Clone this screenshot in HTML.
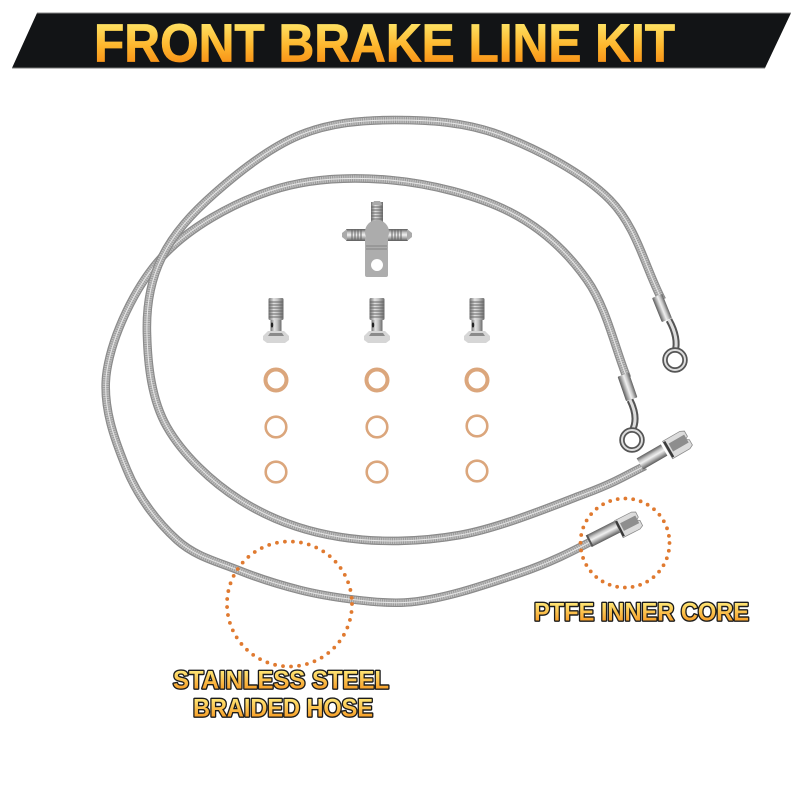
<!DOCTYPE html>
<html><head><meta charset="utf-8"><title>Front Brake Line Kit</title>
<style>html,body{margin:0;padding:0;background:#fff}svg{display:block}</style></head>
<body>
<svg xmlns="http://www.w3.org/2000/svg" width="800" height="800" viewBox="0 0 800 800">
<defs>
<filter id="soft" x="-5%" y="-5%" width="110%" height="110%"><feGaussianBlur stdDeviation="0.3"/></filter>
<linearGradient id="tg" x1="0" y1="0" x2="0" y2="1"><stop offset="0.1" stop-color="#ffe96c"/><stop offset="0.55" stop-color="#fdb52c"/><stop offset="1" stop-color="#f57d0c"/></linearGradient>
<linearGradient id="lg" x1="0" y1="0" x2="0" y2="1"><stop offset="0.15" stop-color="#ffe675"/><stop offset="1" stop-color="#f58a12"/></linearGradient>
<linearGradient id="ch" x1="0" y1="0" x2="0" y2="1"><stop offset="0" stop-color="#5e5e5e"/><stop offset="0.3" stop-color="#c8c8c8"/><stop offset="0.5" stop-color="#f0f0f0"/><stop offset="0.75" stop-color="#a8a8a8"/><stop offset="1" stop-color="#5a5a5a"/></linearGradient>
<linearGradient id="chv" x1="0" y1="0" x2="1" y2="0"><stop offset="0" stop-color="#707070"/><stop offset="0.35" stop-color="#e2e2e2"/><stop offset="0.6" stop-color="#c4c4c4"/><stop offset="1" stop-color="#6a6a6a"/></linearGradient>
<path id="h1" d="M662,300 C644.7,266.7 637,227.5 610,200 C583,172.5 535.8,148.3 500,135 C464.2,121.7 428.3,120 395,120 C361.7,120 330,122.8 300,135 C270,147.2 238,172.7 215,193 C192,213.3 173.7,233.3 162,257 C150.3,280.7 146,306.7 147,335 C147.8,363.3 151.2,399.5 167,427 C182.8,454.5 211.2,481.7 240,500 C268.8,518.3 303.3,531.2 340,537 C376.7,542.8 418.8,542.3 460,535 C501.2,527.7 556.2,504.5 587,493 C617.8,481.5 630,473 645,466"/>
<path id="h2" d="M627,378 C614,345 606.5,307.7 587,280 C567.5,252.3 542.8,228.7 510,212 C477.2,195.3 430,183.5 390,180 C350,176.5 308,178.2 270,191 C232,203.8 189.2,227.2 162,257 C134.8,286.8 112.8,334.5 107,370 C101.2,405.5 115.3,441.7 127,470 C138.7,498.3 158.5,523.3 177,540 C195.5,556.7 217.5,561.7 238,570 C258.5,578.3 280.2,585 300,590 C319.8,595 338.7,597.8 357,600 C372,601.8 388,603.5 405,602.5 C440,600.5 485,585 520,573 C550,562.8 573,551 590,542"/>
<g id="bolt">
<rect x="-7.5" y="298" width="15" height="22" rx="1.5" fill="url(#chv)"/>
<path d="M-7.5,302h15M-7.5,305h15M-7.5,308h15M-7.5,311h15M-7.5,314h15M-7.5,317h15" stroke="#666" stroke-width="1"/>
<rect x="-5.5" y="320" width="11" height="13" fill="url(#chv)"/>
<ellipse cx="-4" cy="325" rx="1.2" ry="2.5" fill="#222"/>
<path d="M-8,331 H8 L13,336 V340 L9,343 H-9 L-13,340 V336 Z" fill="#d6d6d6"/>
<path d="M-6,333 H6 L8,336 H-8 Z" fill="#8a8a8a"/>
</g>
<g id="nut">
<path d="M-12,-10 H8 L12,-8 V-2 L9,0 L12,2 V8 L8,10 H-12 Z" fill="#dcdcdc" stroke="#8a8a8a" stroke-width="0.8"/>
<rect x="-8" y="-5" width="18" height="9" fill="#8e8e8e"/>
<rect x="-12" y="-9" width="2.5" height="18" fill="#3a3a3a"/>
</g>
</defs>

<polygon points="37,13 791,13 765,68 12,68" fill="#121416"/>
<path d="M37,13 H791" stroke="#888" stroke-width="1"/>
<path d="M12,68 H765" stroke="#777" stroke-width="1"/>
<text x="94" y="61.5" font-family="'Liberation Sans',sans-serif" font-weight="700" font-size="54" textLength="581" lengthAdjust="spacingAndGlyphs" fill="url(#tg)" stroke="url(#tg)" stroke-width="0.8">FRONT BRAKE LINE KIT</text>

<g filter="url(#soft)">
<!-- hoses -->
<g fill="none">
<use href="#h2" stroke="#8a8a8a" stroke-width="8.6"/>
<use href="#h2" stroke="#c0c0c0" stroke-width="6.2"/>
<use href="#h2" stroke="#8e8e8e" stroke-width="8.2" stroke-dasharray="1 1.2" opacity="0.75"/>
<use href="#h2" stroke="#e6e6e6" stroke-width="1"/>
<use href="#h1" stroke="#8a8a8a" stroke-width="8.6"/>
<use href="#h1" stroke="#c0c0c0" stroke-width="6.2"/>
<use href="#h1" stroke="#8e8e8e" stroke-width="8.2" stroke-dasharray="1 1.2" opacity="0.75"/>
<use href="#h1" stroke="#e6e6e6" stroke-width="1"/>
</g>

<!-- banjo ends -->
<g fill="none">
<path d="M669,320 Q679,338 675,352" stroke="#555" stroke-width="7"/>
<path d="M669,320 Q679,338 675,352" stroke="#ddd" stroke-width="3"/>
<circle cx="675" cy="360" r="10" stroke="#555" stroke-width="5.5"/>
<circle cx="675" cy="360" r="10" stroke="#ddd" stroke-width="2"/>
<path d="M630,400 Q639,418 632,431" stroke="#555" stroke-width="7"/>
<path d="M630,400 Q639,418 632,431" stroke="#ddd" stroke-width="3"/>
<circle cx="632" cy="440" r="10" stroke="#555" stroke-width="5.5"/>
<circle cx="632" cy="440" r="10" stroke="#ddd" stroke-width="2"/>
</g>
<rect x="-13" y="-5.5" width="26" height="11" rx="1" transform="translate(662,308) rotate(68)" fill="url(#ch)"/>
<rect x="-13" y="-6" width="26" height="12" rx="1" transform="translate(627.5,387) rotate(71)" fill="url(#ch)"/>

<!-- straight fittings -->
<g transform="translate(652,457) rotate(-30)"><rect x="-14" y="-6.5" width="28" height="13" fill="url(#ch)"/></g>
<use href="#nut" transform="translate(678,444) rotate(-30)"/>
<g transform="translate(603,534) rotate(-27)">
<rect x="-16" y="-6.5" width="32" height="13" fill="url(#ch)"/>
<rect x="-16" y="-6.5" width="2" height="13" fill="#555"/>
</g>
<use href="#nut" transform="translate(629,524) rotate(-27) scale(0.95)"/>

<!-- tee -->
<g>
<rect x="371" y="202" width="12" height="22" fill="url(#chv)"/>
<path d="M371,207h12M371,210h12M371,213h12M371,216h12M371,219h12" stroke="#666"/>
<polygon points="372,205 374,201 380,201 382,205" fill="#aaa"/>
<rect x="346" y="229" width="22" height="12" fill="url(#ch)"/>
<path d="M352,229v12M355,229v12M358,229v12M361,229v12" stroke="#666"/>
<polygon points="347,229 342,233 342,237 347,241" fill="#aaa"/>
<rect x="386" y="229" width="22" height="12" fill="url(#ch)"/>
<path d="M392,229v12M395,229v12M398,229v12M401,229v12" stroke="#666"/>
<polygon points="407,229 412,233 412,237 407,241" fill="#aaa"/>
<path fill-rule="evenodd" d="M365,238 H388 V275 Q388,277 386,277 H367 Q365,277 365,275 Z M377,259 a6,6 0 1,0 0.01,0 Z" fill="#adadad"/>
<path d="M366,246h21M366,249h21" stroke="#838383"/>
<circle cx="377" cy="232" r="12" fill="#acacac"/>
</g>

<!-- bolts -->
<use href="#bolt" x="276"/>
<use href="#bolt" x="377"/>
<use href="#bolt" x="477"/>

<!-- washers -->
<g fill="none" stroke="#dba67c">
<g stroke-width="4"><circle cx="276" cy="380" r="10.5"/><circle cx="377" cy="380" r="10.5"/><circle cx="477" cy="380" r="10.5"/></g>
<g stroke-width="2.6"><circle cx="276" cy="427" r="10.3"/><circle cx="377" cy="427" r="10.3"/><circle cx="477" cy="426" r="10.3"/><circle cx="276" cy="472" r="10.3"/><circle cx="377" cy="472" r="10.3"/><circle cx="477" cy="471" r="10.3"/></g>
</g>
</g>

<!-- dotted callouts -->
<g fill="none" stroke="#e07a30" stroke-width="3.8" stroke-linecap="round">
<circle cx="625" cy="543" r="44.5" stroke-dasharray="0 7.77"/>
<circle cx="289.5" cy="604" r="62.5" stroke-dasharray="0 8.05"/>
</g>

<!-- labels -->
<g font-family="'Liberation Sans',sans-serif" font-weight="700" font-size="25" fill="url(#lg)" stroke="#1c1c1c" stroke-width="2.8" paint-order="stroke" stroke-linejoin="round">
<text x="534" y="620.5" textLength="215" lengthAdjust="spacingAndGlyphs">PTFE INNER CORE</text>
<text x="173" y="688.5" textLength="216" lengthAdjust="spacingAndGlyphs">STAINLESS STEEL</text>
<text x="193" y="716.5" textLength="180" lengthAdjust="spacingAndGlyphs">BRAIDED HOSE</text>
</g>
</svg>
</body></html>
